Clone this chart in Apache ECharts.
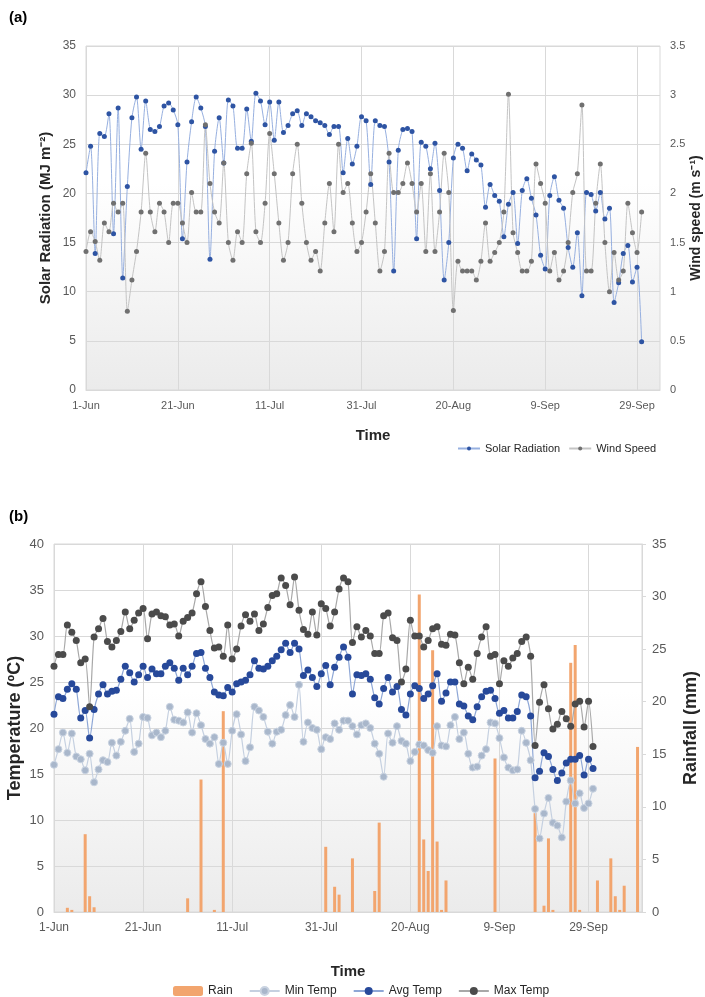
<!DOCTYPE html>
<html>
<head>
<meta charset="utf-8">
<script src="https://cdn.jsdelivr.net/npm/echarts@6/dist/echarts.min.js"></script>
<style>html,body{margin:0;padding:0;background:#fff}#c{width:705px;height:997px}</style>
</head>
<body>
<div id="c"></div>
<script>
// ---- data ----
const tickLabels = ['1-Jun','21-Jun','11-Jul','31-Jul','20-Aug','9-Sep','29-Sep'];
const solar = [22.1,24.8,13.9,26.1,25.8,28.1,15.9,28.7,11.4,20.7,
  27.7,29.8,24.5,29.4,26.5,26.3,26.8,28.9,29.2,28.5,
  27.0,15.4,23.2,27.3,29.8,28.7,26.8,13.3,24.3,27.7,
  23.1,29.5,28.9,24.6,24.6,28.6,25.3,30.2,29.4,27.0,
  29.3,25.4,29.3,26.2,26.9,28.1,28.4,26.9,28.1,27.8,
  27.4,27.2,26.9,26.0,26.8,26.8,22.1,25.6,23.0,24.8,
  27.8,27.4,20.9,27.4,26.9,26.8,23.2,12.1,24.4,26.5,
  26.6,26.3,15.4,25.2,24.8,22.5,25.1,20.3,11.2,15.0,
  23.6,25.0,24.6,22.3,24.0,23.4,22.9,18.6,20.9,19.8,
  19.2,15.6,18.9,20.1,14.9,20.3,21.5,19.5,17.8,13.7,
  12.3,19.8,21.7,19.3,18.5,14.5,12.5,16.0,9.6,20.1,
  19.9,18.2,20.1,17.4,18.5,8.9,10.9,13.9,14.7,11.0,
  12.5,4.9];
const wind = [1.41,1.61,1.51,1.32,1.70,1.61,1.90,1.81,1.90,0.80,
  1.12,1.41,1.81,2.41,1.81,1.61,1.90,1.81,1.50,1.90,
  1.90,1.70,1.50,2.01,1.81,1.81,2.70,2.10,1.81,1.70,
  2.31,1.50,1.32,1.61,1.50,2.20,2.51,1.61,1.50,1.90,
  2.61,2.20,1.70,1.32,1.50,2.20,2.50,1.90,1.50,1.32,
  1.41,1.21,1.70,2.10,1.61,2.50,2.01,2.10,1.70,1.41,
  1.50,1.81,2.20,1.70,1.21,1.41,2.41,2.01,2.01,2.10,
  2.31,2.10,1.81,2.10,1.41,2.20,1.41,1.81,2.41,2.01,
  0.81,1.31,1.21,1.21,1.21,1.12,1.31,1.70,1.31,1.40,
  1.50,1.81,3.01,1.60,1.40,1.21,1.21,1.31,2.30,2.10,
  1.90,1.21,1.40,1.12,1.21,1.50,2.01,2.20,2.90,1.21,
  1.21,1.90,2.30,1.50,1.00,1.40,1.12,1.21,1.90,1.60,
  1.40,1.81];
const maxTemp = [26.7,28.0,28.0,31.2,30.4,29.5,27.1,27.5,22.3,29.9,
  30.8,31.9,29.4,28.8,29.5,30.5,32.6,30.8,31.7,32.5,
  33.0,29.7,32.4,32.6,32.2,32.1,31.2,31.3,30.0,31.6,
  32.0,32.5,34.6,35.9,33.2,30.6,28.7,28.8,27.8,31.2,
  27.5,28.6,31.1,32.3,31.6,32.4,30.6,31.3,33.1,34.4,
  34.6,36.3,35.5,33.4,36.4,32.8,30.7,30.2,32.6,30.1,
  33.5,33.0,31.1,32.6,35.1,36.3,35.9,29.3,31.0,29.9,
  30.6,30.0,28.1,28.1,32.2,32.5,29.8,29.5,25.0,26.4,
  31.7,30.0,30.0,28.8,29.5,30.8,31.0,29.1,29.0,30.2,
  30.1,27.1,24.8,26.6,25.3,28.1,29.9,31.0,27.8,28.0,
  24.8,27.3,26.7,27.6,28.1,29.4,29.9,27.8,18.1,22.8,
  24.7,22.1,19.9,20.4,21.8,21.0,20.2,22.6,22.9,20.1,
  22.9,18.0];
const avgTemp = [21.5,23.4,23.2,24.2,24.8,24.2,21.1,21.9,18.9,22.0,
  23.7,24.7,23.7,24.0,24.1,25.3,26.7,26.0,25.0,25.8,
  26.7,25.5,26.4,25.9,25.9,26.7,27.1,26.5,25.2,26.5,
  25.8,26.7,28.1,28.2,26.5,25.5,23.9,23.6,23.5,24.4,
  23.9,24.8,25.0,25.2,25.8,27.3,26.5,26.4,26.7,27.3,
  27.8,28.5,29.2,28.2,29.2,28.6,25.7,26.3,25.5,24.5,
  25.9,26.8,24.7,26.6,27.7,28.8,27.7,23.7,25.8,25.7,
  25.9,25.3,23.3,22.6,24.3,25.5,23.9,24.5,22.0,21.4,
  23.7,24.6,24.3,23.2,23.7,24.6,25.9,22.9,23.8,25.0,
  25.0,22.6,22.4,21.3,20.9,22.3,23.4,24.0,24.1,23.2,
  21.6,21.9,21.1,21.1,21.8,23.6,23.4,21.3,14.6,15.3,
  17.3,16.9,15.5,14.3,15.1,16.2,16.6,16.6,17.0,14.9,
  16.6,15.6];
const minTemp = [16.0,17.7,19.5,17.3,19.4,16.9,16.6,15.4,17.2,14.1,
  15.5,16.5,16.3,18.4,17.0,18.5,19.7,21.0,17.4,18.3,
  21.2,21.1,19.2,19.5,19.0,19.7,22.3,20.9,20.8,20.6,
  21.7,19.5,21.6,20.3,18.8,18.3,19.0,16.1,18.4,16.1,
  19.7,21.5,19.3,16.4,17.9,22.3,21.9,21.2,19.6,18.3,
  19.6,19.8,21.4,22.5,21.2,24.7,18.5,20.6,20.0,19.8,
  17.7,19.0,18.8,20.5,19.8,20.8,20.8,20.2,19.3,20.3,
  20.5,20.0,18.3,17.2,14.7,19.4,18.4,20.2,18.6,18.3,
  16.4,17.4,18.2,18.1,17.6,17.3,20.2,18.1,18.0,20.3,
  21.2,18.8,19.5,17.2,15.7,15.8,17.0,17.7,20.6,20.5,
  18.9,16.8,15.7,15.4,15.5,19.7,18.4,16.5,11.2,8.0,
  10.7,12.4,9.7,9.4,8.1,12.0,14.3,11.8,12.9,11.3,
  11.8,13.4];
const rain = [0,0,0,0.4,0.2,0,0,7.4,1.5,0.45,
  0,0,0,0,0,0,0,0,0,0,
  0,0,0,0,0,0,0,0,0,0,
  1.3,0,0,12.6,0,0,0.2,0,19.1,0,
  0,0,0,0,0,0,0,0,0,0,
  0,0,0,0,0,0,0,0,0,0,
  0,6.2,0,2.4,1.65,0,0,5.1,0,0,
  0,0,2.0,8.5,0,0,0,0,0,0,
  0,0,30.2,6.9,3.9,24.9,6.7,0.2,3.0,0,
  0,0,0,0,0,0,0,0,0,14.6,
  0,0,0,0,0,0,0,0,9.4,0,
  0.6,7.0,0.2,0,0,0,23.7,25.4,0.2,0,
  0,0,3.0,0,0,5.1,1.5,0.2,2.5,0,
  0,15.7];

// category days (Jun 1 onward)
const monthNames = ['Jan','Feb','Mar','Apr','May','Jun','Jul','Aug','Sep','Oct','Nov','Dec'];
function makeDays(n){
  const out=[]; const d=new Date(2020,5,1);
  for(let i=0;i<n;i++){ out.push(d.getDate()+'-'+monthNames[d.getMonth()]); d.setDate(d.getDate()+1); }
  return out;
}
const daysTop = makeDays(126);
const daysBot = makeDays(133);

const FONT = "'Liberation Sans',sans-serif";
const labelColor = '#595959';
const gridCol = '#d9d9d9';
function bg(){ return new echarts.graphic.LinearGradient(0,0,0,1,[{offset:0,color:'#ffffff'},{offset:0.4,color:'#ffffff'},{offset:1,color:'#ebebeb'}]); }

const chart = echarts.init(document.getElementById('c'), null, {renderer:'canvas'});
const xCommon = (data, gi, fs) => ({
  type:'category', gridIndex:gi, data:data, boundaryGap:false,
  axisLine:{show:true,lineStyle:{color:gridCol}}, axisTick:{show:false},
  axisLabel:{interval:19, color:labelColor, fontFamily:FONT, fontSize:fs, margin:10,
    formatter:(v,i)=> tickLabels[i/20] !== undefined ? tickLabels[i/20] : v},
  splitLine:{show:true, interval:19, lineStyle:{color:gridCol}},
  name:'Time', nameLocation:'middle', nameMoveOverlap:false,
  nameTextStyle:{fontFamily:FONT, fontSize:15, fontWeight:'bold', color:'#262626'}
});

chart.setOption({
  animation:false,
  textStyle:{fontFamily:FONT},
  graphic:[
    {type:'text', left:9, top:10, style:{text:'(a)', font:"bold 15px "+FONT, fill:'#000'}},
    {type:'text', left:9, top:509, style:{text:'(b)', font:"bold 15px "+FONT, fill:'#000'}}
  ],
  grid:[
    {left:86, top:46, width:574, height:344, show:true, backgroundColor:bg(), borderColor:gridCol, borderWidth:1, outerBoundsMode:'none', containLabel:false},
    {left:54, top:544, width:588, height:368, show:true, backgroundColor:bg(), borderColor:gridCol, borderWidth:1, outerBoundsMode:'none', containLabel:false}
  ],
  legend:[
    {data:['Solar Radiation','Wind Speed'], left:452, top:438, itemWidth:22, itemHeight:5, itemGap:8,
     textStyle:{fontFamily:FONT, fontSize:11, color:'#262626'}},
    {data:['Rain','Min Temp','Avg Temp','Max Temp'], left:168, top:980, itemWidth:30, itemHeight:10, itemGap:16,
     textStyle:{fontFamily:FONT, fontSize:12, color:'#262626'}}
  ],
  xAxis:[
    Object.assign(xCommon(daysTop,0,11), {nameGap:38}),
    Object.assign(xCommon(daysBot,1,12), {nameGap:52})
  ],
  yAxis:[
    {type:'value', gridIndex:0, min:0, max:35, interval:5, position:'left',
     axisLine:{show:false}, axisTick:{show:false},
     axisLabel:{color:labelColor, fontFamily:FONT, fontSize:12, margin:10},
     splitLine:{show:true, lineStyle:{color:gridCol}},
     name:'Solar Radiation (MJ m\u207B\u00B2)', nameLocation:'middle', nameRotate:90, nameGap:33, nameMoveOverlap:false,
     nameTextStyle:{fontFamily:FONT, fontSize:15, fontWeight:'bold', color:'#262626'}},
    {type:'value', gridIndex:0, min:0, max:3.5, interval:0.5, position:'right',
     axisLine:{show:false}, axisTick:{show:false},
     axisLabel:{color:labelColor, fontFamily:FONT, fontSize:11, margin:10},
     splitLine:{show:false},
     name:'Wind speed (m s\u207B\u00B9)', nameLocation:'middle', nameRotate:90, nameGap:29, nameMoveOverlap:false,
     nameTextStyle:{fontFamily:FONT, fontSize:14, fontWeight:'bold', color:'#262626'}},
    {type:'value', gridIndex:1, min:0, max:40, interval:5, position:'left',
     axisLine:{show:false}, axisTick:{show:false},
     axisLabel:{color:labelColor, fontFamily:FONT, fontSize:13, margin:10},
     splitLine:{show:true, lineStyle:{color:gridCol}},
     name:'Temperature (\u00BAC)', nameLocation:'middle', nameRotate:90, nameGap:30, nameMoveOverlap:false,
     nameTextStyle:{fontFamily:FONT, fontSize:18, fontWeight:'bold', color:'#262626'}},
    {type:'value', gridIndex:1, min:0, max:35, interval:5, position:'right',
     axisLine:{show:true, lineStyle:{color:gridCol}}, axisTick:{show:true, length:4, lineStyle:{color:gridCol}},
     axisLabel:{color:labelColor, fontFamily:FONT, fontSize:13, margin:10},
     splitLine:{show:false},
     name:'Rainfall (mm)', nameLocation:'middle', nameRotate:90, nameGap:40, nameMoveOverlap:false,
     nameTextStyle:{fontFamily:FONT, fontSize:18, fontWeight:'bold', color:'#262626'}}
  ],
  series:[
    {name:'Solar Radiation', type:'line', xAxisIndex:0, yAxisIndex:0, data:solar, smooth:0.25,
     symbol:'circle', symbolSize:5, showAllSymbol:true,
     itemStyle:{color:'#2e54a3'}, lineStyle:{color:'#97b0e0', width:1}},
    {name:'Wind Speed', type:'line', xAxisIndex:0, yAxisIndex:1, data:wind, smooth:0.25,
     symbol:'circle', symbolSize:5, showAllSymbol:true,
     itemStyle:{color:'#707070'}, lineStyle:{color:'#c4c4c4', width:1}},
    {name:'Rain', type:'bar', xAxisIndex:1, yAxisIndex:3, data:rain, barWidth:3,
     itemStyle:{color:'#f2a56e'}},
    {name:'Min Temp', type:'line', xAxisIndex:1, yAxisIndex:2, data:minTemp, smooth:0.25,
     symbol:'circle', symbolSize:7, showAllSymbol:true,
     itemStyle:{color:'#a9b7cb', borderColor:'#c9d3e1', borderWidth:1}, lineStyle:{color:'#c5d0e0', width:1.2}},
    {name:'Avg Temp', type:'line', xAxisIndex:1, yAxisIndex:2, data:avgTemp, smooth:0.25,
     symbol:'circle', symbolSize:7, showAllSymbol:true,
     itemStyle:{color:'#27499a'}, lineStyle:{color:'#8ea7d6', width:1.2}},
    {name:'Max Temp', type:'line', xAxisIndex:1, yAxisIndex:2, data:maxTemp, smooth:0.25,
     symbol:'circle', symbolSize:7, showAllSymbol:true,
     itemStyle:{color:'#4b4b4b'}, lineStyle:{color:'#a8a8a8', width:1.2}}
  ]
});
</script>
</body>
</html>
